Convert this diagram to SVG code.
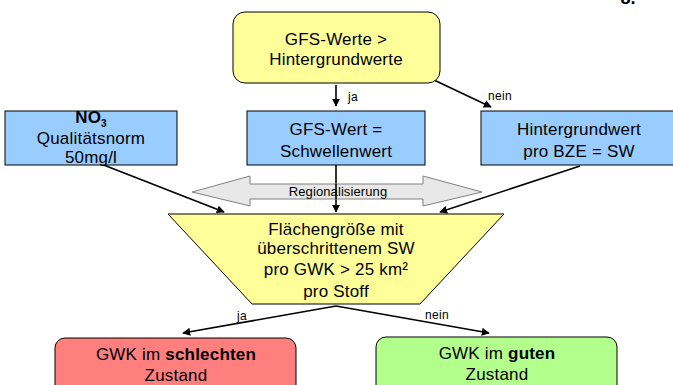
<svg xmlns="http://www.w3.org/2000/svg" width="673" height="385" viewBox="0 0 673 385">
<defs>
<style>
text{font-family:"Liberation Sans",Arial,sans-serif;fill:#000;text-anchor:middle}
.t{font-size:17px;letter-spacing:0.2px}
.s{font-size:12px;letter-spacing:0.3px}
.box{stroke:#000;stroke-width:1}
.ln{stroke:#000;stroke-width:1.6;fill:none;marker-end:url(#ah)}
</style>
<marker id="ah" viewBox="0 0 10 10" refX="9" refY="5" markerWidth="5" markerHeight="5" orient="auto" markerUnits="strokeWidth">
<path d="M0,0 L10,5 L0,10 z" fill="#000"/>
</marker>
</defs>
<rect width="673" height="385" fill="#fff"/>
<text x="628" y="4" style="font-size:18px;font-weight:bold">8.</text>
<g id="connectors">
<line class="ln" x1="336" y1="85" x2="336" y2="106"/>
<line class="ln" x1="434" y1="80" x2="491" y2="107"/>
<line class="ln" x1="336" y1="165" x2="336" y2="212"/>
<line class="ln" x1="96" y1="162" x2="224" y2="212"/>
<line class="ln" x1="580" y1="166" x2="440" y2="212"/>
<line class="ln" x1="336" y1="306" x2="183" y2="333"/>
<line class="ln" x1="336" y1="306" x2="489" y2="333"/>
<text class="s" x="353" y="101">ja</text>
<text class="s" x="500" y="100">nein</text>
<text class="s" x="242" y="320">ja</text>
<text class="s" x="437" y="319">nein</text>
</g>
<g id="top">
<rect class="box" x="233" y="12" width="207" height="71" rx="12" fill="#ffff99"/>
<text class="t" x="336" y="45">GFS-Werte &gt;</text>
<text class="t" x="336" y="65">Hintergrundwerte</text>
</g>
<g id="no3">
<rect class="box" x="5" y="111" width="172" height="54" fill="#99ccff"/>
<text class="t" x="91" y="123" style="font-weight:bold">NO<tspan dy="4" style="font-size:10px">3</tspan></text>
<text class="t" x="91" y="144">Qualitätsnorm</text>
<text class="t" x="91" y="163">50mg/l</text>
</g>
<g id="gfs">
<rect class="box" x="247" y="111" width="178" height="54" fill="#99ccff"/>
<text class="t" x="336" y="135">GFS-Wert =</text>
<text class="t" x="336" y="157">Schwellenwert</text>
</g>
<g id="hg">
<rect class="box" x="481" y="111" width="196" height="54" fill="#99ccff"/>
<text class="t" x="579" y="135">Hintergrundwert</text>
<text class="t" x="579" y="157">pro BZE = SW</text>
</g>
<g id="regio">
<path d="M192,192 L250,176 L250,184 L423,184 L423,176 L482,192 L423,206 L423,199 L250,199 L250,206 Z" fill="#e8e8e8" stroke="#808080" stroke-width="1"/>
<line x1="336" y1="184" x2="336" y2="199" stroke="#000" stroke-width="1.6"/>
<text x="338" y="196" style="font-size:13px;letter-spacing:0.1px">Regionalisierung</text>
</g>
<g id="flaeche">
<path class="box" d="M168,214 L504,214 L420,304 L252,304 Z" fill="#ffff99"/>
<text class="t" x="336" y="235">Flächengröße mit</text>
<text class="t" x="336" y="254">überschrittenem SW</text>
<text class="t" x="336" y="275">pro GWK &gt; 25 km²</text>
<text class="t" x="336" y="297">pro Stoff</text>
</g>
<g id="schlecht">
<rect class="box" x="55" y="338" width="241" height="70" rx="10" fill="#ff7f7f"/>
<text class="t" x="176" y="360">GWK im <tspan style="font-weight:bold">schlechten</tspan></text>
<text class="t" x="176" y="381">Zustand</text>
</g>
<g id="gut">
<rect class="box" x="376" y="337" width="241" height="70" rx="10" fill="#b3ff8c"/>
<text class="t" x="497" y="359">GWK im <tspan style="font-weight:bold">guten</tspan></text>
<text class="t" x="497" y="380">Zustand</text>
</g>
</svg>
